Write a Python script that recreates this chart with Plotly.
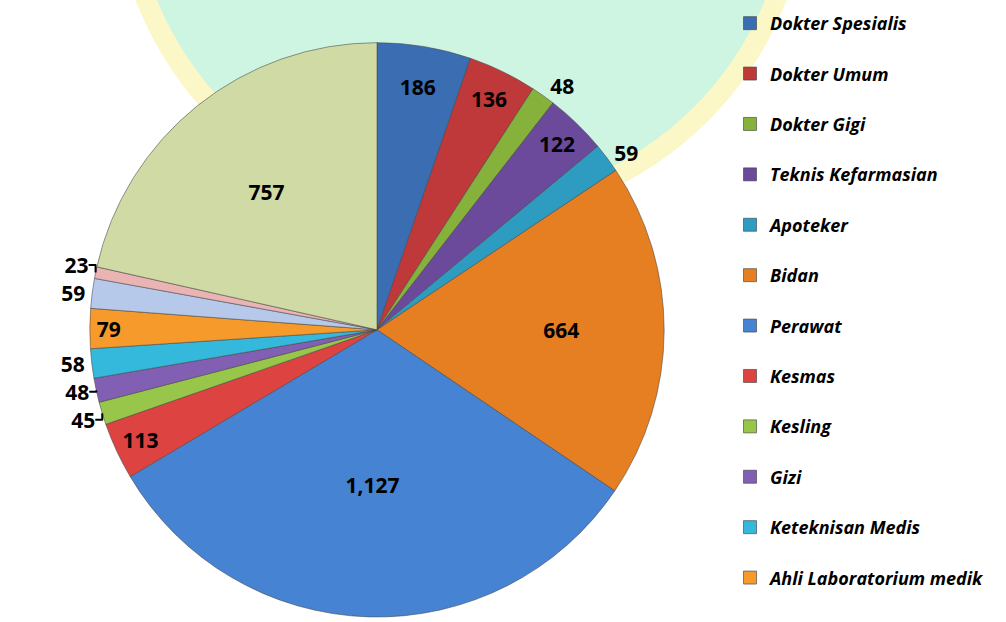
import plotly.graph_objects as go

categories = ["Dokter Spesialis", "Dokter Umum", "Dokter Gigi", "Teknis Kefarmasian",
              "Apoteker", "Bidan", "Perawat", "Kesmas", "Kesling", "Gizi",
              "Keteknisan Medis", "Ahli Laboratorium medik",
              "Keterapian Fisik", "Teknik Biomedika", "Tenaga Lainnya"]
values = [186, 136, 48, 122, 59, 664, 1127, 113, 45, 48, 58, 79, 59, 23, 757]
legend_count = 12

colors = ["#3b6db3", "#c0393a", "#86b23c", "#6b4a9b", "#2e9cc0", "#e67e22",
          "#4683d3", "#dc4341", "#97c64a", "#8160b4", "#34b8dc", "#f79a2c",
          "#b6c9ea", "#eab4b4", "#cfdaa4"]
text_pos = ["inside", "inside", "outside", "inside", "outside", "inside", "inside",
            "inside", "outside", "outside", "outside", "inside", "outside", "outside", "inside"]

W, H = 1006, 622
fig = go.Figure()

fig.add_trace(go.Pie(
    labels=categories, values=values, sort=False, direction="clockwise", rotation=0,
    marker=dict(colors=colors, line=dict(color="rgba(70,70,70,0.55)", width=1)),
    texttemplate="%{value:,}", textposition=text_pos,
    insidetextorientation="horizontal",
    textfont=dict(family="Open Sans", size=21, color="black", weight="bold"),
    showlegend=False, hoverinfo="label+value",
    domain=dict(x=[87.5 / W, 666.5 / W], y=[0, 1 - 43 / H]),
))

for name, col in zip(categories[:legend_count], colors[:legend_count]):
    fig.add_trace(go.Scatter(
        x=[None], y=[None], mode="markers", name=name, legendgroup=name,
        marker=dict(symbol="square", size=13, color=col,
                    line=dict(color="rgba(60,60,60,0.6)", width=1)),
    ))

# faint background watermark circle
shapes = [
    dict(type="circle", xref="paper", yref="paper", layer="below",
         x0=113 / W, x1=809 / W, y0=1 - 225 / H, y1=1 + 471 / H,
         fillcolor="#fcf7c6", line=dict(width=0)),
    dict(type="circle", xref="paper", yref="paper", layer="below",
         x0=133 / W, x1=789 / W, y0=1 - 205 / H, y1=1 + 451 / H,
         fillcolor="#cdf5e2", line=dict(width=0)),
]

fig.update_layout(
    width=W, height=H,
    margin=dict(l=0, r=0, t=0, b=0),
    paper_bgcolor="white", plot_bgcolor="rgba(0,0,0,0)",
    xaxis=dict(visible=False), yaxis=dict(visible=False),
    shapes=shapes,
    uniformtext=dict(minsize=21, mode="show"),
    legend=dict(x=730 / W, y=1 - 5 / H, xanchor="left", yanchor="top",
                font=dict(family="Open Sans", size=18, color="black", weight="bold", style="italic"),
                tracegroupgap=24, bgcolor="rgba(0,0,0,0)", itemwidth=30),
)

fig.write_html("out.html", config={"displayModeBar": False},
               post_script="document.body.style.margin='0px';")
